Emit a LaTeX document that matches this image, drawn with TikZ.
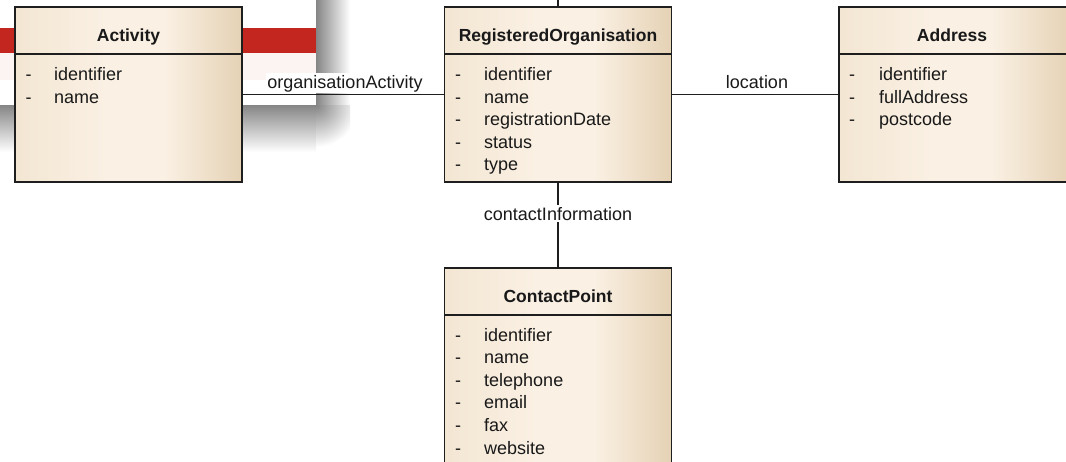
\documentclass[tikz,border=0pt]{standalone}
\usepackage{fontspec}
\setmainfont{Liberation Sans}
\definecolor{fa}{HTML}{F3E6D3}
\definecolor{fb}{HTML}{FAF0E3}
\definecolor{fc}{HTML}{E5D2B5}
\definecolor{edge}{HTML}{1E1E1E}
\definecolor{redbar}{HTML}{C3261E}
\definecolor{pinkbar}{HTML}{FCF4F2}
\definecolor{shadow}{HTML}{858585}
\pgfdeclarehorizontalshading{umlfill}{100bp}{color(0bp)=(fa); color(25bp)=(fa); color(45bp)=(fb); color(58bp)=(fb); color(75bp)=(fc); color(100bp)=(fc)}
\tikzset{
  classbox/.style={draw=edge, line width=1.4pt, shading=umlfill, rectangle, inner sep=0pt},
  hdr/.style={font=\bfseries\fontsize{17.5}{20}\selectfont, text=black!90, inner sep=0pt, anchor=base},
  attr/.style={font=\fontsize{18}{21}\selectfont, text=black!90, anchor=base west, inner sep=0pt},
  dashmark/.style={font=\fontsize{18}{21}\selectfont, text=black!90, inner sep=0pt, anchor=base},
  conn/.style={draw=edge, line width=1.1pt},
  clabel/.style={font=\fontsize{18}{21}\selectfont, text=black!90, fill=white, inner sep=1.5pt, anchor=base},
  divider/.style={draw=edge, line width=1.1pt}
}
\begin{document}
\begin{tikzpicture}[x=1pt,y=-1pt]
\clip (0,0) rectangle (1066,461);
\fill[white] (0,0) rectangle (1066,461);
% overlay panel with shadow
\shade[left color=shadow, right color=white] (316,0) rectangle (350,105);
\shade[top color=shadow, bottom color=white] (0,105) rectangle (316,152);
\begin{scope}
\clip (316,105) rectangle (350,152);
\shade[inner color=shadow, outer color=white] (316,105) circle (42);
\end{scope}
\fill[white] (0,0) rectangle (316,105);
\fill[redbar] (0,28) rectangle (316,53);
\fill[pinkbar] (0,53) rectangle (316,80);
% class boxes
\node[classbox, minimum width=227pt, minimum height=175pt] (act) at (128.5,94.5) {};
\node[classbox, minimum width=227pt, minimum height=175pt] (reg) at (558,94.5) {};
\node[classbox, minimum width=232pt, minimum height=175pt] (adr) at (955,94.5) {};
\node[classbox, minimum width=227pt, minimum height=220pt] (cp) at (558,378) {};
% dividers
\draw[divider] (act.west |- 0,54) -- (act.east |- 0,54);
\draw[divider] (reg.west |- 0,54) -- (reg.east |- 0,54);
\draw[divider] (adr.west |- 0,54) -- (adr.east |- 0,54);
\draw[divider] (cp.west |- 0,315) -- (cp.east |- 0,315);
% headers
\node[hdr] (acth) at (128.5,41.5) {Activity};
\node[hdr] (regh) at (558,41.5) {RegisteredOrganisation};
\node[hdr] (adrh) at (952,41.5) {Address};
\node[hdr] (cph) at (558,302.5) {ContactPoint};
% Activity attributes
\foreach \t [count=\i from 0] in {identifier,name}{
  \node[dashmark] (actd\i) at (28.5,{80.5+22.6*\i}) {-};
  \node[attr] (acta\i) at (54,{80.5+22.6*\i}) {\t};
}
% RegisteredOrganisation attributes
\foreach \t [count=\i from 0] in {identifier,name,registrationDate,status,type}{
  \node[dashmark] (regd\i) at (458,{80.5+22.6*\i}) {-};
  \node[attr] (rega\i) at (484,{80.5+22.6*\i}) {\t};
}
% Address attributes
\foreach \t [count=\i from 0] in {identifier,fullAddress,postcode}{
  \node[dashmark] (adrd\i) at (852,{80.5+22.6*\i}) {-};
  \node[attr] (adra\i) at (879,{80.5+22.6*\i}) {\t};
}
% ContactPoint attributes
\foreach \t [count=\i from 0] in {identifier,name,telephone,email,fax,website}{
  \node[dashmark] (cpd\i) at (458,{341+22.6*\i}) {-};
  \node[attr] (cpa\i) at (484,{341+22.6*\i}) {\t};
}
% connectors
\coordinate (topend) at (558,0);
\draw[conn] (reg.north) -- (topend);
\draw[conn] (act.east) -- (reg.west);
\draw[conn] (reg.east) -- (adr.west);
\draw[conn] (reg.south) -- (cp.north);
\node[clabel] (l1) at (345,88) {organisationActivity};
\node[clabel, fill=none] (l2) at (757,88) {location};
\node[clabel] (l3) at (558,220) {contactInformation};
\end{tikzpicture}
\end{document}
